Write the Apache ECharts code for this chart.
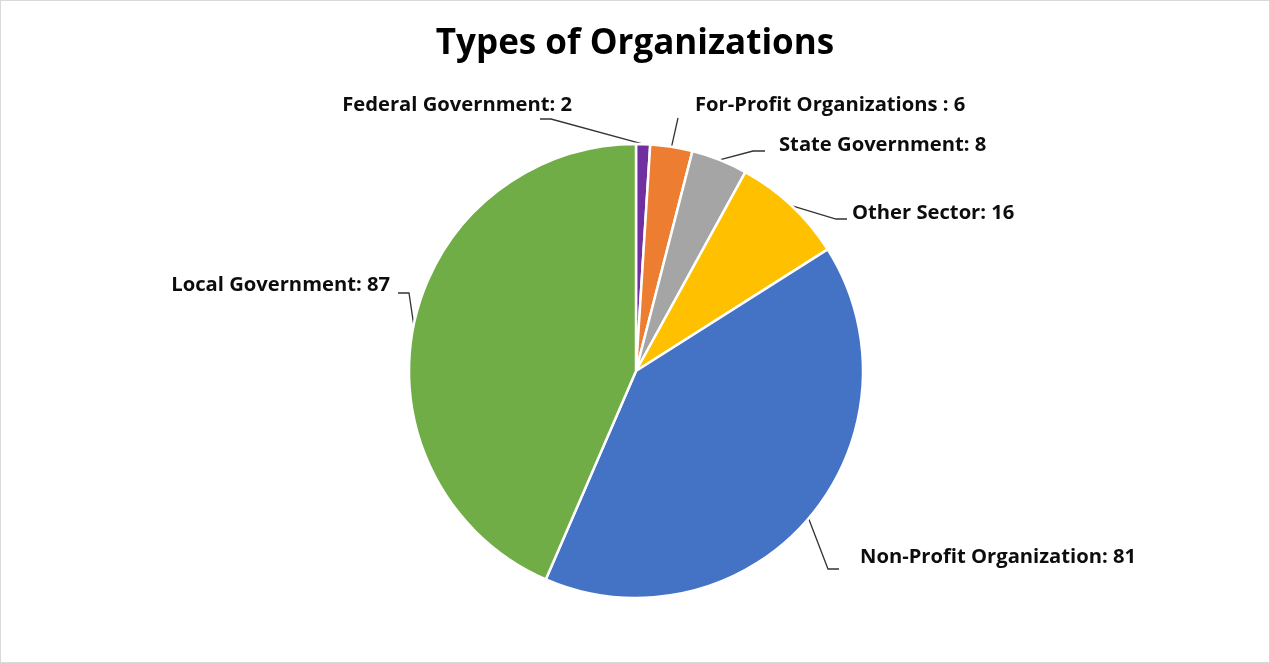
<!DOCTYPE html>
<html>
<head>
<meta charset="utf-8">
<script src="https://cdn.jsdelivr.net/npm/echarts@6/dist/echarts.min.js"></script>
<style>
  html, body { margin: 0; padding: 0; background: #fff; }
  #chart { width: 1270px; height: 663px; box-sizing: border-box; border: 1px solid #d9d9d9; }
</style>
</head>
<body>
<div id="chart"></div>
<script>
// Organization types and counts, clockwise from 12 o'clock
const categories = [
  'Federal Government',
  'For-Profit Organizations ',
  'State Government',
  'Other Sector',
  'Non-Profit Organization',
  'Local Government'
];
const counts = [2, 6, 8, 16, 81, 87];
const colors = ['#7030A0', '#ED7D31', '#A5A5A5', '#FFC000', '#4472C4', '#70AD47'];

// Callout placement for each label: text anchor, alignment, and leader-line bend/end points
const callouts = [
  { x: 571, y: 104, align: 'right', bend: [550, 118], end: [539, 118] },
  { x: 694, y: 104, align: 'left',  bend: [677, 117], end: [677, 117] },
  { x: 778, y: 144, align: 'left',  bend: [752, 150], end: [764, 150] },
  { x: 851, y: 212, align: 'left',  bend: [835, 218], end: [846, 218] },
  { x: 859, y: 556, align: 'left',  bend: [827, 568], end: [838, 568] },
  { x: 389, y: 284, align: 'right', bend: [408, 292], end: [397, 292] }
];

const seriesData = categories.map((name, i) => ({
  name: name,
  value: counts[i],
  itemStyle: { color: colors[i] }
}));

const chart = echarts.init(document.getElementById('chart'), null, { renderer: 'canvas' });
chart.setOption({
  backgroundColor: '#ffffff',
  animation: false,
  title: {
    text: 'Types of Organizations',
    left: 'center',
    top: 21,
    textStyle: { fontFamily: 'Open Sans', fontWeight: 'bold', fontSize: 35, color: '#000' }
  },
  series: [{
    type: 'pie',
    center: [635, 370],
    radius: [0, 227],
    startAngle: 90,
    clockwise: true,
    avoidLabelOverlap: false,
    data: seriesData,
    itemStyle: { borderColor: '#ffffff', borderWidth: 2.5 },
    label: {
      show: true,
      position: 'outside',
      formatter: p => p.name + ': ' + p.value,
      fontFamily: 'Open Sans',
      fontWeight: 'bold',
      fontSize: 20.2,
      color: '#0d0d0d'
    },
    labelLine: {
      show: true,
      length: 20,
      length2: 10,
      lineStyle: { color: '#333333', width: 1.3 }
    },
    labelLayout: function (params) {
      const c = callouts[params.dataIndex];
      const start = params.labelLinePoints ? params.labelLinePoints[0] : c.bend;
      return {
        x: c.x,
        y: c.y,
        align: c.align,
        verticalAlign: 'middle',
        labelLinePoints: [start, c.bend, c.end]
      };
    },
    emphasis: { disabled: true }
  }]
});
</script>
</body>
</html>
